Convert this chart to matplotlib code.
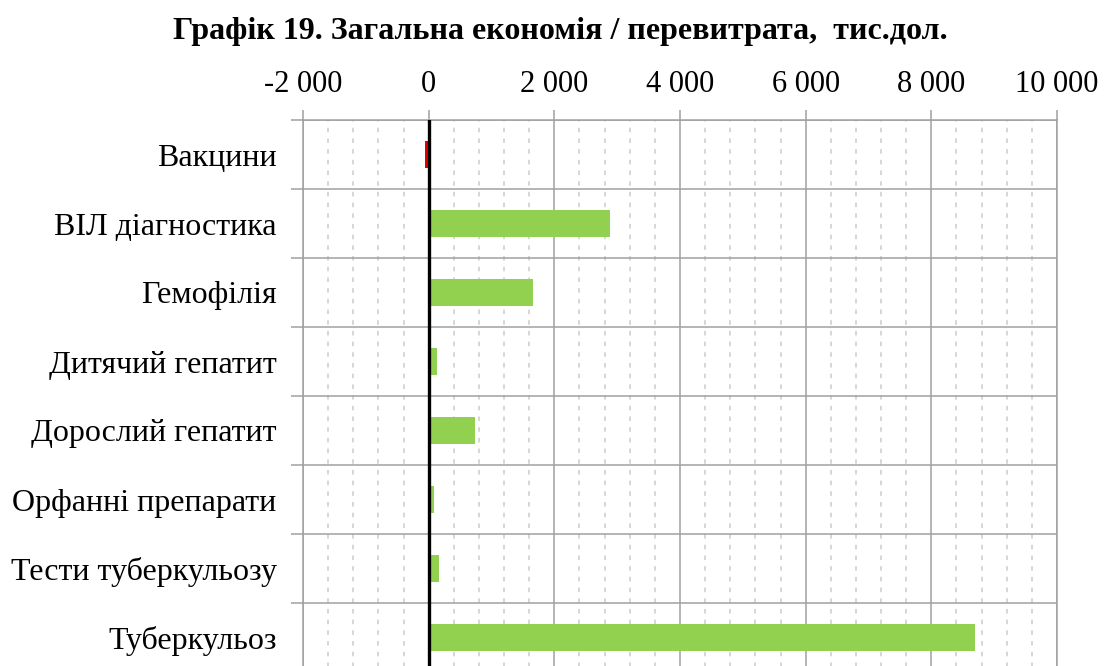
import numpy as np
import matplotlib.pyplot as plt
from matplotlib.ticker import MultipleLocator, FuncFormatter

categories = ["Вакцини", "ВІЛ діагностика", "Гемофілія", "Дитячий гепатит",
              "Дорослий гепатит", "Орфанні препарати", "Тести туберкульозу", "Туберкульоз"]
values = [-55, 2880, 1655, 130, 730, 90, 165, 8690]
title = "Графік 19. Загальна економія / перевитрата,  тис.дол."

plt.rcParams['font.family'] = ['Liberation Serif', 'DejaVu Serif']

fig = plt.figure(figsize=(11.05, 6.66), dpi=100)
ax = fig.add_axes([303 / 1105, 1 - 672 / 666, 754 / 1105, 552 / 666])

y = np.arange(len(categories))
colors = ['#E00000' if v < 0 else '#92D050' for v in values]
ax.barh(y, values, height=0.4, color=colors, zorder=3)
ax.axvline(0, color='black', lw=2.4, zorder=4)

ax.set_xlim(-2000, 10000)
ax.set_ylim(len(categories) - 0.5, -0.5)

ax.xaxis.set_major_locator(MultipleLocator(2000))
ax.xaxis.set_minor_locator(MultipleLocator(400))
ax.xaxis.set_major_formatter(FuncFormatter(lambda v, p: f"{v:,.0f}".replace(",", " ")))
ax.xaxis.tick_top()
ax.tick_params(axis='x', which='major', length=7, width=1.1, color='#A0A0A0',
               labelsize=22, pad=8)
ax.tick_params(axis='x', which='minor', length=0)

ax.set_yticks(y)
ax.set_yticklabels(categories)
ax.set_yticks(np.arange(len(categories) + 1) - 0.5, minor=True)
ax.tick_params(axis='y', which='major', length=0, labelsize=23, pad=19)
ax.tick_params(axis='y', which='minor', length=9, width=1.1, color='#A0A0A0')

ax.grid(which='major', axis='x', color='#A0A0A0', lw=1.1, zorder=1)
ax.grid(which='minor', axis='x', color='#CCCCCC', lw=1.1, ls=(0, (3, 4)), zorder=0)
ax.grid(which='minor', axis='y', color='#A0A0A0', lw=1.1, zorder=1)

for s in ['top', 'left', 'right', 'bottom']:
    ax.spines[s].set_color('#A0A0A0')
    ax.spines[s].set_linewidth(1.1)

fig.text(0.507, 1 - 31 / 666, title, ha='center', va='center',
         fontsize=23, fontweight='bold')

fig.savefig('out.png', dpi=100)
